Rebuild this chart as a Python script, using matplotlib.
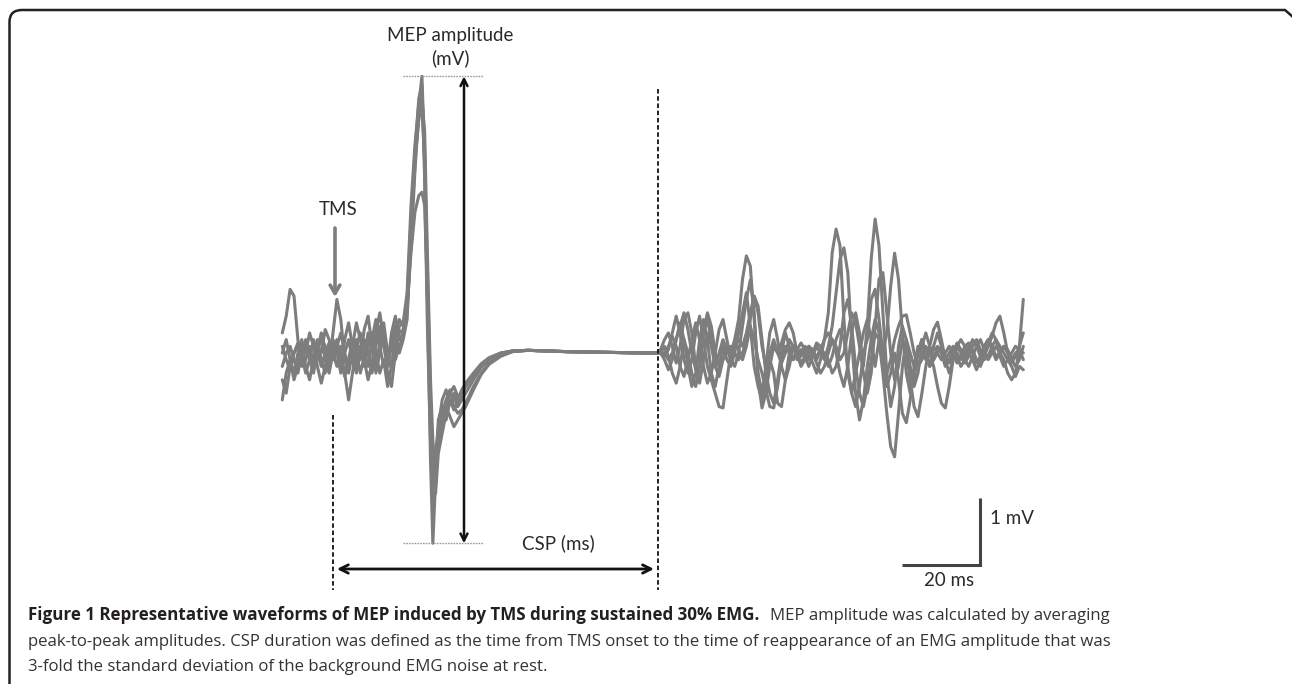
import numpy as np
import matplotlib
matplotlib.use("Agg")
import matplotlib.pyplot as plt
from matplotlib.path import Path
from matplotlib.patches import PathPatch

# ---------------- data (time in ms from TMS, amplitude in mV) ----------------
pre_time = list(range(-13, 19))
mep_time = [19, 20, 21, 22, 22.8, 23.5, 24.2, 25, 25.6, 26.3, 27, 28, 29, 30, 31,
            32, 33, 34, 36, 38, 40, 43, 46, 50, 55, 60, 70, 80, 83]
post_time = list(range(84, 178))

pre_a = [0.3, 0.55, 0.95, 0.85, 0.2, -0.2, -0.1, 0.1, -0.15, 0.05, 0.3, -0.1, -0.3, 0.0, 0.2, -0.1,
         -0.35, -0.1, 0.2, 0.0, -0.3, -0.05, 0.3, 0.1, -0.2, 0.15, 0.45, 0.0, -0.25, 0.1, 0.3, 0.35]
pre_b = [-0.2, 0.0, 0.1, -0.1, -0.3, 0.0, 0.2, -0.1, -0.3, 0.0, 0.25, 0.1, -0.2, 0.3, 0.8, 0.5,
         -0.1, -0.3, 0.0, 0.2, -0.1, 0.35, 0.55, 0.1, -0.3, 0.0, 0.3, -0.2, 0.3, 0.55, 0.2, 0.3]
pre_c = [-0.7, -0.3, -0.1, -0.3, 0.0, 0.2, -0.2, -0.4, -0.1, 0.2, -0.1, -0.3, 0.0, 0.2, 0.0, -0.3,
         0.2, 0.45, 0.1, -0.2, 0.1, -0.1, -0.4, -0.15, 0.3, 0.6, 0.2, -0.3, -0.5, 0.0, 0.4, 0.45]
pre_d = [0.0, 0.2, -0.1, -0.4, -0.2, 0.15, 0.0, 0.3, 0.1, -0.2, -0.45, -0.2, 0.1, -0.1, 0.1, 0.0,
         -0.3, -0.7, -0.3, 0.1, 0.3, 0.0, -0.2, 0.2, 0.5, 0.1, -0.2, -0.1, 0.2, -0.1, 0.1, 0.25]
pre_e = [-0.4, -0.6, -0.2, 0.0, 0.1, -0.1, 0.15, 0.0, -0.2, 0.1, 0.0, 0.35, 0.2, -0.1, 0.1, 0.3,
         0.0, -0.2, 0.1, 0.45, 0.2, -0.2, 0.1, 0.3, 0.0, -0.3, -0.1, -0.5, -0.2, 0.3, 0.5, 0.4]
pre_f = [0.1, -0.1, -0.25, 0.0, 0.15, -0.05, -0.3, -0.1, 0.2, 0.0, -0.2, 0.0, 0.15, 0.0, -0.2, 0.1,
         0.0, 0.2, -0.1, -0.3, 0.0, 0.2, 0.0, -0.3, 0.1, 0.4, 0.1, -0.2, 0.1, 0.4, 0.0, 0.2]

mep_a = [0.6, 1.6, 2.7, 3.7, 4.13, 3.0, 0.8, -1.6, -2.84, -1.9, -1.0, -0.8, -1.0, -0.7, -0.85,
         -0.75, -0.6, -0.5, -0.32, -0.18, -0.08, 0.0, 0.03, 0.04, 0.03, 0.02, 0.01, 0.0, 0.0]
mep_b = [0.7, 1.9, 3.0, 3.8, 4.0, 2.6, 0.4, -1.3, -2.2, -1.5, -1.1, -0.7, -0.55, -0.75, -0.6,
         -0.7, -0.55, -0.45, -0.3, -0.16, -0.07, 0.0, 0.03, 0.04, 0.03, 0.02, 0.01, 0.0, 0.0]
mep_c = [0.9, 2.2, 3.1, 3.7, 3.9, 2.8, 0.9, -0.9, -2.0, -1.6, -1.2, -0.9, -0.7, -0.55, -0.8,
         -0.9, -0.85, -0.75, -0.5, -0.3, -0.15, -0.04, 0.02, 0.04, 0.03, 0.02, 0.01, 0.0, 0.0]
mep_d = [0.7, 1.5, 2.1, 2.35, 2.4, 2.2, 0.9, -0.8, -1.9, -1.7, -1.3, -1.0, -0.8, -0.95, -1.1,
         -1.0, -0.9, -0.8, -0.55, -0.32, -0.17, -0.05, 0.02, 0.04, 0.03, 0.02, 0.01, 0.0, 0.0]
mep_e = [0.8, 2.0, 2.9, 3.5, 3.7, 2.9, 1.2, -0.7, -1.7, -2.1, -1.5, -1.2, -0.9, -0.75, -0.65,
         -0.8, -0.7, -0.6, -0.4, -0.22, -0.1, -0.02, 0.03, 0.04, 0.03, 0.02, 0.01, 0.0, 0.0]
mep_f = [0.5, 1.8, 2.8, 3.5, 3.8, 3.3, 1.5, -0.4, -1.3, -1.8, -1.4, -1.05, -0.8, -0.6, -0.5,
         -0.65, -0.6, -0.5, -0.34, -0.2, -0.09, -0.01, 0.03, 0.04, 0.03, 0.02, 0.01, 0.0, 0.0]

post_a = [0.05, 0.2, 0.3, 0.1, -0.15, 0.1, 0.5, 0.6, 0.3, -0.2,
          -0.45, -0.1, 0.3, 0.1, -0.2, -0.35, -0.1, 0.1, 0.0, 0.2,
          0.5, 1.1, 1.45, 1.3, 0.5, -0.3, -0.6, -0.2, 0.3, 0.5,
          0.2, -0.2, -0.4, -0.2, 0.1, 0.0, -0.15, -0.05, 0.1, 0.05,
          -0.1, 0.05, 0.2, 0.3, 0.2, 0.0, -0.3, -0.5, -0.2, 0.3,
          0.6, 0.3, -0.2, 0.4, 1.4, 2.0, 1.6, 0.6, -0.3, -0.8,
          -0.5, 0.1, 0.4, 0.2, -0.2, -0.5, -0.3, 0.1, 0.3, 0.1,
          -0.1, 0.0, 0.1, -0.05, -0.15, 0.0, 0.15, 0.05, -0.1, -0.2,
          -0.05, 0.1, 0.2, 0.05, -0.1, 0.0, 0.1, 0.0, -0.1, -0.3,
          -0.4, -0.3, 0.1, 0.8]
post_b = [0.0, -0.1, -0.25, -0.1, 0.2, 0.45, 0.2, -0.2, -0.5, -0.3,
          0.2, 0.5, 0.2, -0.3, -0.5, -0.2, 0.1, -0.1, -0.2, 0.0,
          0.3, 0.6, 0.9, 0.4, -0.2, -0.5, -0.7, -0.4, 0.0, 0.2,
          0.0, -0.15, 0.0, 0.2, 0.1, -0.1, 0.0, 0.1, 0.0, -0.15,
          -0.3, -0.1, 0.2, 0.6, 1.5, 1.85, 1.6, 0.5, -0.3, -0.6,
          -0.3, 0.0, 0.3, 0.5, 0.2, -0.2, 0.2, -0.3, -0.9, -1.4,
          -1.55, -0.9, -0.2, 0.2, 0.0, -0.2, 0.0, 0.2, 0.0, -0.2,
          -0.1, 0.1, 0.0, -0.2, -0.1, 0.05, 0.0, -0.1, 0.0, 0.1,
          0.05, -0.1, -0.2, -0.05, 0.1, 0.25, 0.45, 0.55, 0.3, 0.0,
          -0.15, -0.05, 0.1, 0.3]
post_c = [0.0, 0.1, -0.05, -0.3, -0.45, -0.2, 0.2, 0.0, -0.3, -0.5,
          -0.2, 0.3, 0.5, 0.2, -0.2, 0.0, 0.2, 0.05, -0.1, 0.1,
          0.2, 0.1, 0.3, 0.6, 0.85, 0.7, 0.2, -0.3, -0.6, -0.75,
          -0.4, 0.0, 0.3, 0.1, -0.1, 0.0, 0.05, -0.05, -0.2, -0.05,
          0.1, 0.0, -0.1, 0.1, 0.4, 0.9, 1.4, 1.57, 1.2, 0.2,
          -0.6, -1.0, -0.7, -0.2, 0.2, 0.5, 0.3, 0.0, 0.3, 1.0,
          1.49, 1.1, 0.3, -0.3, -0.6, -0.4, 0.0, 0.2, 0.0, -0.2,
          0.1, 0.3, 0.1, -0.1, 0.0, 0.1, -0.05, -0.2, -0.1, 0.05,
          0.2, 0.1, -0.05, 0.1, 0.2, 0.05, -0.1, 0.0, 0.1, 0.0,
          -0.1, 0.0, 0.05, 0.0]
post_d = [0.0, 0.0, 0.1, 0.25, 0.1, -0.2, -0.35, -0.1, 0.2, 0.45,
          0.2, -0.2, -0.45, -0.3, 0.0, 0.35, 0.5, 0.2, -0.1, -0.2,
          0.0, 0.4, 0.8, 1.09, 0.6, -0.4, -0.82, -0.6, -0.2, 0.1,
          0.0, 0.15, 0.35, 0.45, 0.3, 0.0, -0.2, -0.1, 0.05, 0.0,
          -0.15, -0.3, -0.2, 0.0, 0.2, 0.1, -0.1, 0.0, 0.3, 0.6,
          0.45, 0.1, -0.3, -0.6, -0.3, 0.4, 1.1, 1.2, 0.6, 0.0,
          -0.4, -0.2, 0.2, 0.0, -0.4, -0.8, -0.95, -0.6, -0.2, 0.1,
          0.35, 0.46, 0.2, -0.1, -0.3, -0.1, 0.1, 0.0, -0.15, -0.05,
          0.1, 0.2, 0.05, -0.1, -0.05, 0.1, 0.2, 0.1, 0.0, -0.1,
          -0.2, -0.35, -0.2, -0.25]
post_e = [0.0, -0.05, 0.05, 0.3, 0.55, 0.3, -0.1, -0.3, -0.1, 0.3,
          0.55, 0.2, -0.2, -0.4, -0.6, -0.8, -0.82, -0.4, 0.0, 0.15,
          0.05, -0.1, 0.1, 0.4, 0.2, -0.1, -0.3, -0.55, -0.8, -0.82,
          -0.5, -0.1, 0.1, 0.0, -0.1, 0.05, 0.15, 0.05, -0.1, 0.0,
          0.15, 0.1, -0.05, -0.2, -0.05, 0.2, 0.35, 0.2, -0.2, -0.6,
          -0.8, -0.5, 0.0, 0.2, 0.8, 0.95, 0.5, 0.0, -0.3, -0.1,
          0.2, 0.4, 0.55, 0.57, 0.3, 0.0, -0.2, -0.1, 0.1, 0.0,
          -0.2, -0.5, -0.75, -0.82, -0.5, -0.1, 0.1, 0.2, 0.1, 0.0,
          -0.1, -0.25, -0.1, 0.05, 0.15, 0.3, 0.2, -0.05, -0.2, -0.1,
          0.0, 0.1, 0.05, -0.1]
post_f = [0.0, 0.0, -0.1, 0.0, 0.2, 0.4, 0.6, 0.35, 0.0, -0.25,
          0.0, 0.3, 0.6, 0.4, 0.0, -0.2, -0.1, 0.05, 0.1, 0.0,
          -0.1, 0.0, 0.2, 0.5, 0.84, 0.6, 0.1, -0.2, -0.1, -0.3,
          -0.75, -0.8, -0.4, 0.0, 0.1, 0.0, -0.05, 0.05, 0.1, 0.0,
          -0.05, 0.05, 0.0, -0.1, -0.3, -0.2, 0.1, 0.6, 0.8, 0.4,
          -0.2, -0.6, -0.8, -0.5, -0.1, 0.3, 0.2, -0.2, -0.5, -0.3,
          0.0, -0.4, -0.9, -1.04, -0.7, -0.2, 0.1, 0.0, -0.1, 0.0,
          0.1, 0.0, -0.1, 0.0, 0.1, 0.0, -0.15, -0.05, 0.1, 0.15,
          0.0, -0.15, -0.05, 0.1, 0.2, 0.1, -0.05, 0.0, 0.1, 0.05,
          -0.1, -0.2, -0.1, 0.1]

traces = [(pre_a, mep_a, post_a), (pre_b, mep_b, post_b), (pre_c, mep_c, post_c),
          (pre_d, mep_d, post_d), (pre_e, mep_e, post_e), (pre_f, mep_f, post_f)]

csp_end = 83.3          # ms, reappearance of EMG
scale_ms, scale_mv = 20, 1

# ---------------- figure ----------------
W, H = 1292, 684
fig = plt.figure(figsize=(W / 100, H / 100), dpi=100)
fig.patch.set_facecolor("white")
ax = fig.add_axes([0, 0, 1, 1])
X0, PXMS = 333.0, 3.9     # pixel of TMS onset, pixels per ms
Y0, PXMV = 353.0, 67.0    # pixel of baseline, pixels per mV
ax.set_xlim(-X0 / PXMS, (W - X0) / PXMS)
ax.set_ylim((Y0 - H) / PXMV, Y0 / PXMV)
ax.axis("off")


def P(xp, yp):
    """annotation placement helper: pixel position -> data coordinates"""
    return (xp - X0) / PXMS, (Y0 - yp) / PXMV


trace_color = "#7d7d7d"
for pre, mep, post in traces:
    assert len(pre) == len(pre_time) and len(mep) == len(mep_time) and len(post) == len(post_time)
    t = pre_time + mep_time + post_time
    v = pre + mep + post
    ax.plot(t, v, color=trace_color, lw=2.2, solid_joinstyle="round", solid_capstyle="round")

peak = max(max(m) for _, m, _ in traces)
trough = min(min(m) for _, m, _ in traces)

label_font = ["Lato", "DejaVu Sans"]
txt_col = "#2a2a2a"
lfs = 13.5

# MEP amplitude markers
t_l, _ = P(403, 0)
t_r, _ = P(483, 0)
for lvl in (peak, trough):
    ax.plot([t_l, t_r], [lvl, lvl], color="#999999", lw=1.0, ls=(0, (1.2, 0.8)))
t_arr, _ = P(464, 0)
ax.annotate("", xy=(t_arr, peak), xytext=(t_arr, trough),
            arrowprops=dict(arrowstyle="<->,head_length=0.5,head_width=0.25", lw=1.8,
                            color="#111111", shrinkA=0, shrinkB=0))
ax.text(*P(450, 35), "MEP amplitude", ha="center", va="center", fontsize=lfs,
        family=label_font, color=txt_col)
ax.text(*P(450, 58), "(mV)", ha="center", va="center", fontsize=lfs,
        family=label_font, color=txt_col)

# TMS arrow
ax.text(*P(338, 209), "TMS", ha="center", va="center", fontsize=lfs,
        family=label_font, color=txt_col)
ax.annotate("", xy=P(335, 297), xytext=P(335, 228),
            arrowprops=dict(arrowstyle="->,head_length=0.6,head_width=0.35", lw=2.6,
                            color=trace_color, shrinkA=0, shrinkB=0))

# CSP markers
_, v_top_l = P(0, 415)
_, v_bot = P(0, 590)
_, v_top_r = P(0, 89)
ax.plot([0, 0], [v_top_l, v_bot], color="#111111", lw=1.3, ls=(0, (2.5, 1.5)))
ax.plot([csp_end, csp_end], [v_top_r, v_bot], color="#111111", lw=1.3, ls=(0, (2.5, 1.5)))
_, v_csp = P(0, 569)
ax.annotate("", xy=(csp_end - 1.0, v_csp), xytext=(1.0, v_csp),
            arrowprops=dict(arrowstyle="<->,head_length=0.6,head_width=0.3", lw=2.0,
                            color="#111111", shrinkA=0, shrinkB=0))
ax.text(*P(558, 543), "CSP (ms)", ha="center", va="center", fontsize=lfs,
        family=label_font, color=txt_col)

# scale bar
sb_t, sb_v = P(980, 565)
ax.plot([sb_t - scale_ms, sb_t, sb_t], [sb_v, sb_v, sb_v + scale_mv], color="#444444",
        lw=2.2, solid_joinstyle="miter", solid_capstyle="butt")
ax.text(*P(990, 518), "1 mV", ha="left", va="center", fontsize=lfs,
        family=label_font, color=txt_col)
ax.text(*P(949, 580), "20 ms", ha="center", va="center", fontsize=lfs,
        family=label_font, color=txt_col)

# frame (rounded top-left corner, clipped top-right)
def fx(x): return x / W
def fy(y): return 1 - y / H
verts = [(fx(9.5), fy(690)), (fx(9.5), fy(22)), (fx(9.5), fy(10)), (fx(22), fy(10)),
         (fx(1285), fy(10)), (fx(1293), fy(17))]
codes = [Path.MOVETO, Path.LINETO, Path.CURVE3, Path.CURVE3, Path.LINETO, Path.LINETO]
fig.add_artist(PathPatch(Path(verts, codes), transform=fig.transFigure, fill=False,
                         lw=1.8, ec="#222222"))

# caption
cap_font = ["Open Sans", "DejaVu Sans"]
bold_txt = "Figure 1 Representative waveforms of MEP induced by TMS during sustained 30% EMG."
line1_rest = "MEP amplitude was calculated by averaging"
line2 = ("peak-to-peak amplitudes. CSP duration was defined as the time from TMS onset to the "
         "time of reappearance of an EMG amplitude that was")
line3 = "3-fold the standard deviation of the background EMG noise at rest."

renderer = fig.canvas.get_renderer()


def width(txt, fs, weight="normal"):
    t = fig.text(0, 0, txt, fontsize=fs, family=cap_font, weight=weight)
    w = t.get_window_extent(renderer).width
    t.remove()
    return w


x_left, x_right = 28, 1110
fs_reg = 10 * (x_right - x_left) / width(line2, 10)
rest_w = width(line1_rest, fs_reg)
fs_bold = 10 * (x_right - rest_w - 8 - x_left) / width(bold_txt, 10, "bold")

fig.text(fx(x_left), fy(620), bold_txt, fontsize=fs_bold, family=cap_font, weight="bold",
         color="#231f20", va="baseline")
fig.text(fx(x_right), fy(620), line1_rest, fontsize=fs_reg, family=cap_font,
         color="#333333", va="baseline", ha="right")
fig.text(fx(x_left), fy(646), line2, fontsize=fs_reg, family=cap_font,
         color="#333333", va="baseline")
fig.text(fx(x_left), fy(671), line3, fontsize=fs_reg, family=cap_font,
         color="#333333", va="baseline")

fig.savefig("out.png", dpi=100, facecolor="white")
